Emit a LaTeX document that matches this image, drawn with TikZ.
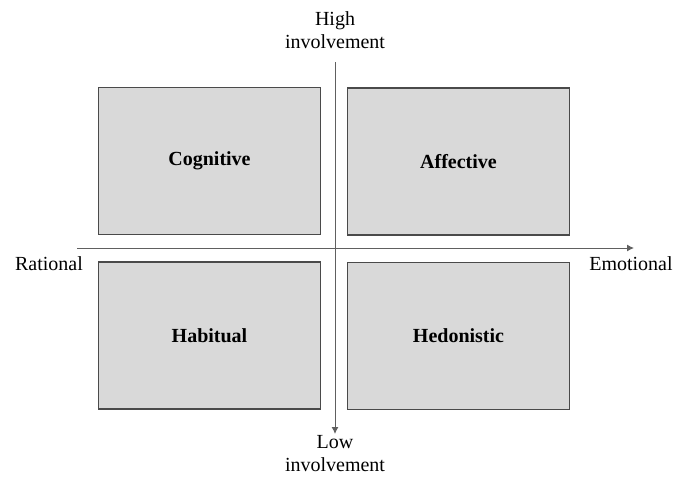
\documentclass[tikz,border=0pt]{standalone}
\usepackage{fontspec}
\setmainfont{Liberation Serif}
\usetikzlibrary{arrows.meta,positioning}
\definecolor{boxfill}{HTML}{D9D9D9}
\definecolor{boxline}{HTML}{4A4A4A}
\definecolor{axisline}{HTML}{606060}
\begin{document}
\begin{tikzpicture}[
    x=1pt, y=-1pt,
    font=\fontsize{20}{23}\selectfont,
    quad/.style={draw=boxline, line width=1.6pt, fill=boxfill, minimum width=222pt, minimum height=147pt, font=\fontsize{20}{23}\selectfont\bfseries},
    axis/.style={draw=axisline, line width=1pt, -{Latex[length=7pt,width=7pt]}},
    pole/.style={align=center, inner sep=0pt}
]
\useasboundingbox (0,0) rectangle (686,477);

% quadrants
\node[quad] (cognitive) at (209.5,161) {Cognitive};
\node[quad] (affective) at (458.5,161.5) {Affective};
\node[quad] (habitual) at (209.5,335.5) {Habitual};
\node[quad] (hedonistic) at (458.5,336) {Hedonistic};

% axes
\coordinate (rat) at (77,248);
\coordinate (emo) at (634,248);
\coordinate (high) at (335,62);
\coordinate (low) at (335,434);
\draw[axis] (rat) -- (emo);
\draw[axis] (high) -- (low);

% axis labels
\node[pole] (hightext) at (335,30) {High\\involvement};
\node[pole] (lowtext) at (335,454) {Low\\involvement};
\node[pole] (rational) at (49,264) {Rational};
\node[pole] (emotional) at (631,264) {Emotional};

\end{tikzpicture}
\end{document}
